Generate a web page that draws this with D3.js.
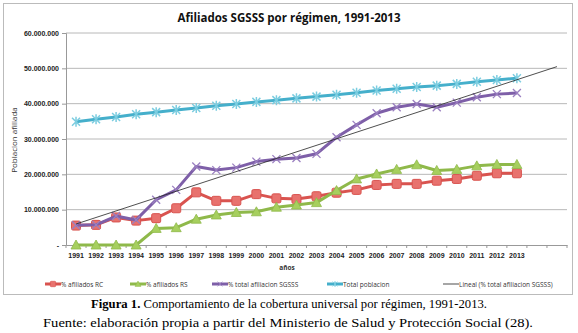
<!DOCTYPE html>
<html lang="es">
<head>
<meta charset="UTF-8">
<title>Afiliados SGSSS por régimen</title>
<script src="https://d3js.org/d3.v7.min.js"></script>
<style>
    body { margin: 0; background: #fff; font-family: "Open Sans", Arial, sans-serif; }
    svg { display: block; }
    .tick text { font-weight: bold; font-size: 7px; fill: #222; }
</style>
</head>
<body>
<svg id="svg" width="578" height="333"></svg>
<script>
// data (millones de personas)
const years = d3.range(1991, 2014).map(String);
const slots = d3.range(1991, 2016).map(String); // two empty categories for trend forecast
const afiliadosRC = [5.5, 5.7, 7.8, 6.9, 7.6, 10.4, 14.9, 12.5, 12.5, 14.4, 13.2, 13.0, 13.8, 14.8, 15.6, 17.0, 17.3, 17.3, 18.2, 18.7, 19.6, 20.3, 20.3];
const afiliadosRS = [0, 0, 0, 0, 4.7, 4.9, 7.3, 8.5, 9.2, 9.4, 10.7, 11.3, 12.0, 15.4, 18.7, 20.1, 21.4, 22.7, 21.1, 21.4, 22.4, 22.8, 22.8];
const totalAfiliacion = [5.6, 5.7, 8.2, 7.1, 12.8, 15.6, 22.2, 21.2, 21.9, 23.6, 24.3, 24.6, 25.8, 30.5, 34.0, 37.3, 39.0, 39.9, 39.0, 40.3, 41.8, 42.7, 43.0];
const totalPoblacion = [34.9, 35.6, 36.2, 37.0, 37.6, 38.2, 38.8, 39.4, 39.9, 40.5, 41.0, 41.5, 42.0, 42.5, 43.1, 43.7, 44.2, 44.7, 45.1, 45.6, 46.2, 46.7, 47.2];
const yTicks = [0, 10, 20, 30, 40, 50, 60];

const svg = d3.select("#svg");
const margin = { top: 33, right: 11, bottom: 88, left: 66 };
const width = 578, height = 333;

// chart frame
svg.append("rect").attr("x", 3.5).attr("y", 3.5).attr("width", 569).attr("height", 291)
    .attr("fill", "#fff").attr("stroke", "#bbb");

const x = d3.scaleBand().domain(slots).range([margin.left, width - margin.right]);
const y = d3.scaleLinear().domain([0, 60]).range([height - margin.bottom, margin.top]);
const cx = d => x(d) + x.bandwidth() / 2;

const fmt = v => v === 0 ? "-" : d3.format(",")(v * 1e6).replace(/,/g, ".");

// gridlines
svg.append("g").selectAll("line").data(yTicks.slice(1)).join("line")
    .attr("x1", margin.left).attr("x2", width - margin.right)
    .attr("y1", d => y(d)).attr("y2", d => y(d))
    .attr("stroke", "#b8b8b8").attr("stroke-width", 1);

// y axis
const yAxis = svg.append("g").attr("transform", `translate(${margin.left},0)`)
    .call(d3.axisLeft(y).tickValues(yTicks).tickFormat(fmt).tickSize(4).tickPadding(3));
yAxis.selectAll("line, path").attr("stroke", "#999");

// x axis
const xAxis = svg.append("g").attr("transform", `translate(0,${y(0)})`)
    .call(d3.axisBottom(x).tickFormat(d => years.includes(d) ? d : "").tickSize(0).tickPadding(8));
xAxis.select("path").attr("stroke", "#999");
xAxis.selectAll(".tick text").attr("font-size", "7px");
svg.append("g").selectAll("line").data(slots.concat("end")).join("line")
    .attr("x1", d => d === "end" ? width - margin.right : x(d))
    .attr("x2", d => d === "end" ? width - margin.right : x(d))
    .attr("y1", y(0)).attr("y2", y(0) + 3).attr("stroke", "#999");

// title
svg.append("text").attr("x", 289).attr("y", 22).attr("text-anchor", "middle")
    .attr("font-size", "13px").attr("font-weight", "bold").attr("fill", "#111")
    .attr("textLength", 223).attr("lengthAdjust", "spacingAndGlyphs")
    .text("Afiliados SGSSS por régimen, 1991-2013");

// axis titles
svg.append("text").attr("transform", "rotate(-90)").attr("x", -140).attr("y", 17)
    .attr("text-anchor", "middle").attr("font-size", "8px").attr("fill", "#333")
    .text("Poblacion afiliada");
svg.append("text").attr("x", 287).attr("y", 270).attr("text-anchor", "middle")
    .attr("font-size", "6.5px").attr("font-weight", "bold").attr("fill", "#333")
    .text("años");

const line = d3.line().x((d, i) => cx(years[i])).y(d => y(d));

const series = [
    { name: "% afiliados RC", data: afiliadosRC, color: "#d9534f", fill: "#e8726e", marker: "square" },
    { name: "% afiliados RS", data: afiliadosRS, color: "#8fb94a", fill: "#a6cf5e", marker: "triangle" },
    { name: "% total afiliacion SGSSS", data: totalAfiliacion, color: "#7e5fa8", fill: "#9a7fc0", marker: "x" },
    { name: "Total poblacion", data: totalPoblacion, color: "#45afcb", fill: "#7ccde0", marker: "star" }
];

function drawMarker(g, type, s) {
    if (type === "square") {
        g.append("rect").attr("x", -4.5).attr("y", -4.5).attr("width", 9).attr("height", 9).attr("rx", 1.5)
            .attr("fill", s.fill).attr("stroke", s.color).attr("stroke-width", 1);
    } else if (type === "triangle") {
        g.append("path").attr("d", "M0,-5L5,4L-5,4Z").attr("fill", s.fill).attr("stroke", s.color).attr("stroke-width", 0.8);
    } else if (type === "x") {
        g.append("path").attr("d", "M-4,-4L4,4M-4,4L4,-4").attr("stroke", s.fill).attr("stroke-width", 1.3);
    } else {
        g.append("path").attr("d", "M-4,-4L4,4M-4,4L4,-4M0,-5L0,5").attr("stroke", s.fill).attr("stroke-width", 1.5);
    }
}

// trend line (linear fit of total afiliacion, forward 2 periods)
const xs = totalAfiliacion.map((d, i) => i);
const mx = d3.mean(xs), my = d3.mean(totalAfiliacion);
const slope = d3.sum(xs, i => (i - mx) * (totalAfiliacion[i] - my)) / d3.sum(xs, i => (i - mx) ** 2);
const icpt = my - slope * mx;

series.forEach(s => {
    svg.append("path").datum(s.data).attr("d", line).attr("fill", "none")
        .attr("stroke", s.color).attr("stroke-width", 3).attr("stroke-linejoin", "round");
    s.data.forEach((v, i) => {
        const g = svg.append("g").attr("transform", `translate(${cx(years[i])},${y(v)})`);
        drawMarker(g, s.marker, s);
    });
});

svg.append("line")
    .attr("x1", cx(slots[0])).attr("y1", y(icpt))
    .attr("x2", cx(slots[slots.length - 1])).attr("y2", y(icpt + slope * (slots.length - 1)))
    .attr("stroke", "#222").attr("stroke-width", 0.8);

// legend
const legendItems = series.map(s => ({ ...s })).concat([{ name: "Lineal (% total afiliacion SGSSS)", color: "#888", marker: null }]);
const legendX = [45, 130, 212, 327, 443];
legendItems.forEach((s, i) => {
    const g = svg.append("g").attr("transform", `translate(${legendX[i]},284)`);
    g.append("line").attr("x1", 0).attr("x2", 16).attr("stroke", s.color).attr("stroke-width", s.marker ? 3 : 1.5);
    if (s.marker) {
        const m = g.append("g").attr("transform", "translate(8,0) scale(0.6)");
        drawMarker(m, s.marker, s);
    }
    g.append("text").attr("x", 16).attr("y", 2.5).attr("font-size", "6.5px").attr("fill", "#333").text(s.name);
});

// caption
const serif = "'Liberation Serif', 'Times New Roman', serif";
const cap = svg.append("text").attr("x", 289).attr("y", 308).attr("text-anchor", "middle")
    .attr("font-family", serif).attr("font-size", "13px").attr("fill", "#000")
    .attr("textLength", 396).attr("lengthAdjust", "spacingAndGlyphs");
cap.append("tspan").attr("font-weight", "bold").text("Figura 1.");
cap.append("tspan").text(" Comportamiento de la cobertura universal por régimen, 1991-2013.");
svg.append("text").attr("x", 288).attr("y", 327).attr("text-anchor", "middle")
    .attr("font-family", serif).attr("font-size", "12.5px").attr("fill", "#000")
    .attr("textLength", 490).attr("lengthAdjust", "spacingAndGlyphs")
    .text("Fuente: elaboración propia a partir del Ministerio de Salud y Protección Social (28).");
</script>
</body>
</html>
